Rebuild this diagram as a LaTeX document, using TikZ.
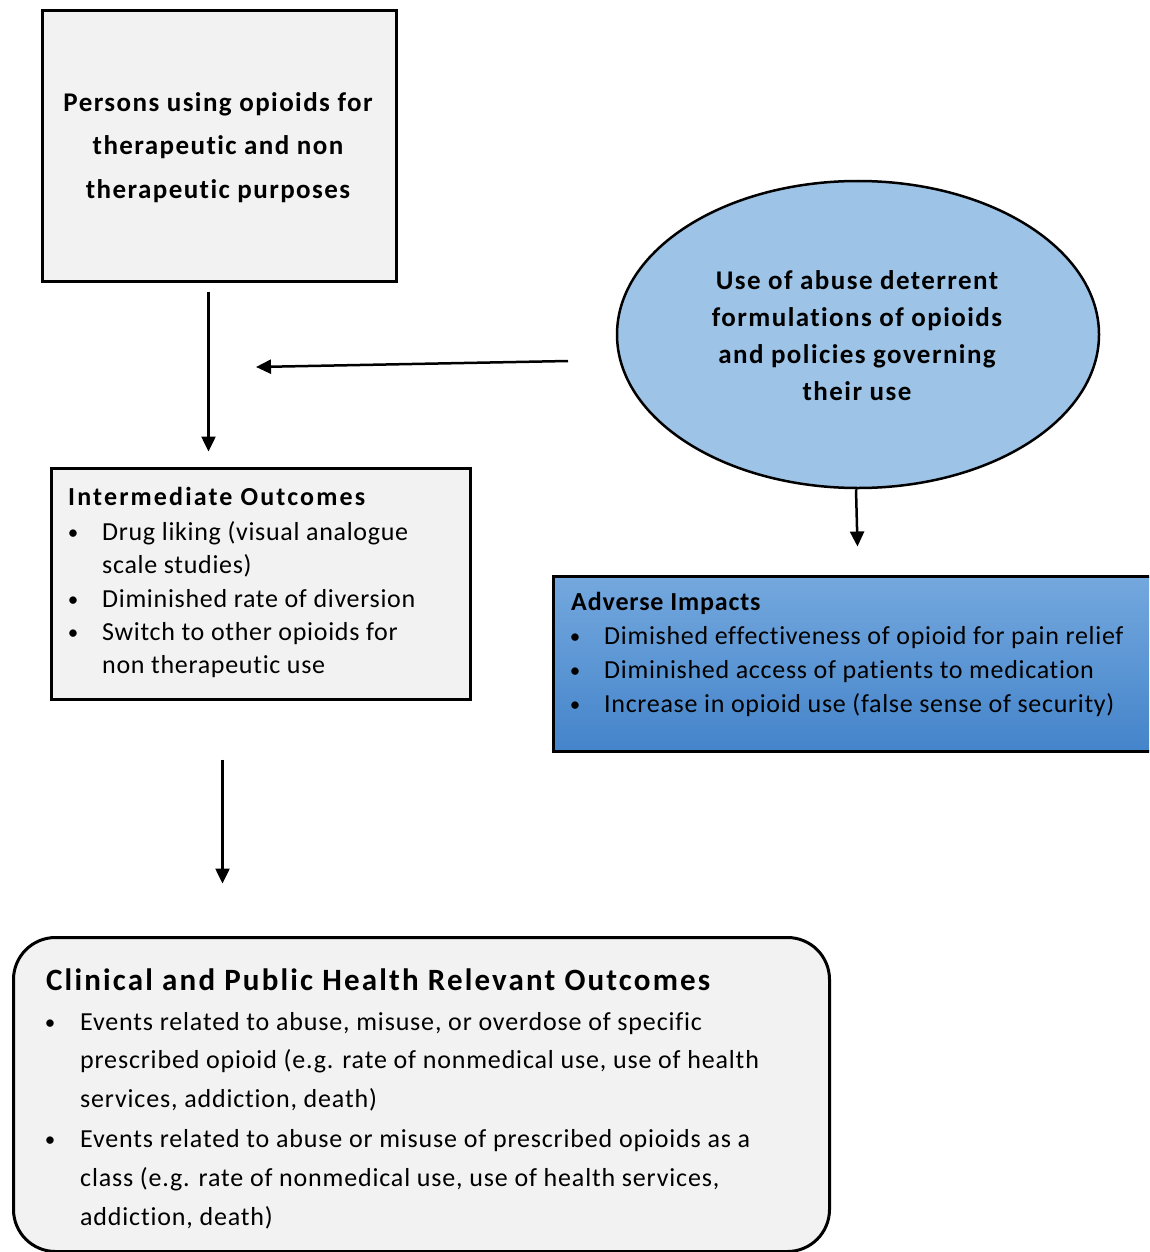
\documentclass[tikz,border=0pt]{standalone}
\usepackage{fontspec}
\setmainfont[Ligatures=NoCommon]{Carlito}
\newfontfamily\bodyf[Ligatures=NoCommon,LetterSpace=2.7]{Carlito}
\newfontfamily\bodyg[Ligatures=NoCommon,LetterSpace=3.2]{Carlito}
\newfontfamily\boldA[Ligatures=NoCommon,LetterSpace=5.3]{Carlito}
\newfontfamily\boldB[Ligatures=NoCommon,LetterSpace=7]{Carlito}
\newfontfamily\boldC[Ligatures=NoCommon,LetterSpace=8.3]{Carlito}
\newfontfamily\boldD[Ligatures=NoCommon,LetterSpace=3.3]{Carlito}
\usetikzlibrary{arrows.meta,shapes.geometric}
\definecolor{boxgray}{HTML}{F2F2F2}
\definecolor{ellblue}{HTML}{9DC3E6}
\definecolor{advtop}{HTML}{74A8DE}
\definecolor{advbot}{HTML}{4484CA}
\begin{document}
\begin{tikzpicture}[x=1pt,y=-1pt,
  box/.style={draw=black,line width=3pt,fill=boxgray,inner sep=0pt,anchor=north west},
  arr/.style={draw=black,line width=2.5pt,-{Triangle[length=15pt,width=14pt]}},
  ttlc/.style={font=\boldA\fontsize{27}{27}\selectfont\bfseries,inner sep=0pt,anchor=base},
  ttl/.style={inner sep=0pt,anchor=base west},
  body/.style={font=\bodyf\fontsize{26}{26}\selectfont,inner sep=0pt,anchor=base west},
  cbody/.style={font=\bodyg\fontsize{26}{26}\selectfont,inner sep=0pt,anchor=base west},
  bul/.style={font=\fontsize{21}{21}\selectfont,inner sep=0pt,anchor=base},
]
\useasboundingbox (0,0) rectangle (1149,1252);
\clip (0,0) rectangle (1149,1252);

% boxes
\node[box, minimum width=354pt, minimum height=271pt] (persons) at (41,9) {};
\node[ellipse, draw=black, line width=2.5pt, fill=ellblue, minimum width=482pt, minimum height=307pt, inner sep=0pt] (adf) at (858,334.5) {};
\node[box, minimum width=419pt, minimum height=231pt] (inter) at (50,467) {};
\node[draw=black, line width=3pt, top color=advtop, bottom color=advbot, minimum width=620pt, minimum height=175pt, anchor=north west, inner sep=0pt] (adverse) at (552,575) {};
\node[box, rounded corners=42pt, minimum width=816pt, minimum height=314pt] (clin) at (12,936) {};

% persons text
\node[ttlc] (p1) at (218,112) {Persons using opioids for};
\node[ttlc] (p2) at (218,155) {therapeutic and non};
\node[ttlc] (p3) at (218,198) {therapeutic purposes};

% ellipse text
\node[ttlc] (e1) at (857,289) {Use of abuse deterrent};
\node[ttlc] (e2) at (857,326) {formulations of opioids};
\node[ttlc] (e3) at (857,363) {and policies governing};
\node[ttlc] (e4) at (857,400) {their use};

% intermediate text
\node[ttl, font=\boldC\fontsize{26}{26}\selectfont\bfseries] (it) at (68,505) {Intermediate Outcomes};
\node[bul] (ib1) at (73,539) {•};
\node[bul] (ib2) at (73,606) {•};
\node[bul] (ib3) at (73,639) {•};
\node[body] (i1) at (102,540) {Drug liking (visual analogue};
\node[body] (i2) at (102,573) {scale studies)};
\node[body] (i3) at (102,607) {Diminished rate of diversion};
\node[body] (i4) at (102,640) {Switch to other opioids for};
\node[body] (i5) at (102,673) {non therapeutic use};

% adverse text
\node[ttl, font=\boldD\fontsize{26}{26}\selectfont\bfseries] (at) at (571,610) {Adverse Impacts};
\node[bul] (ab1) at (575,643) {•};
\node[bul] (ab2) at (575,677) {•};
\node[bul] (ab3) at (575,711) {•};
\node[body] (a1) at (604,644) {Dimished effectiveness of opioid for pain relief};
\node[body] (a2) at (604,678) {Diminished access of patients to medication};
\node[body] (a3) at (604,712) {Increase in opioid use (false sense of security)};

% clinical text
\node[ttl, font=\boldB\fontsize{31}{31}\selectfont\bfseries] (ct) at (46,990) {Clinical and Public Health Relevant Outcomes};
\node[bul] (cb1) at (50,1029) {•};
\node[bul] (cb2) at (50,1146) {•};
\node[cbody] (c1) at (80,1030) {Events related to abuse, misuse, or overdose of specific};
\node[cbody] (c2) at (80,1068) {prescribed opioid (e.g. rate of nonmedical use, use of health};
\node[cbody] (c3) at (80,1107) {services, addiction, death)};
\node[cbody] (c4) at (80,1147) {Events related to abuse or misuse of prescribed opioids as a};
\node[cbody] (c5) at (80,1186) {class (e.g. rate of nonmedical use, use of health services,};
\node[cbody] (c6) at (80,1225) {addiction, death)};

% connectors
\coordinate (join) at (256,367);
\draw[arr] ([shift={(-11,8.5)}]persons.south) -- ([shift={(-52.5,-15.5)}]inter.north);
\draw[arr] ([shift={(-47.75,26.5)}]adf.west) -- (join);
\draw[arr] ([shift={(-2,0)}]adf.south) -- ([shift={(-6,-28.5)}]adverse.north);
\draw[arr] ([shift={(-38.5,58.5)}]inter.south) -- ([shift={(-199,-52.5)}]clin.north);
\end{tikzpicture}
\end{document}
